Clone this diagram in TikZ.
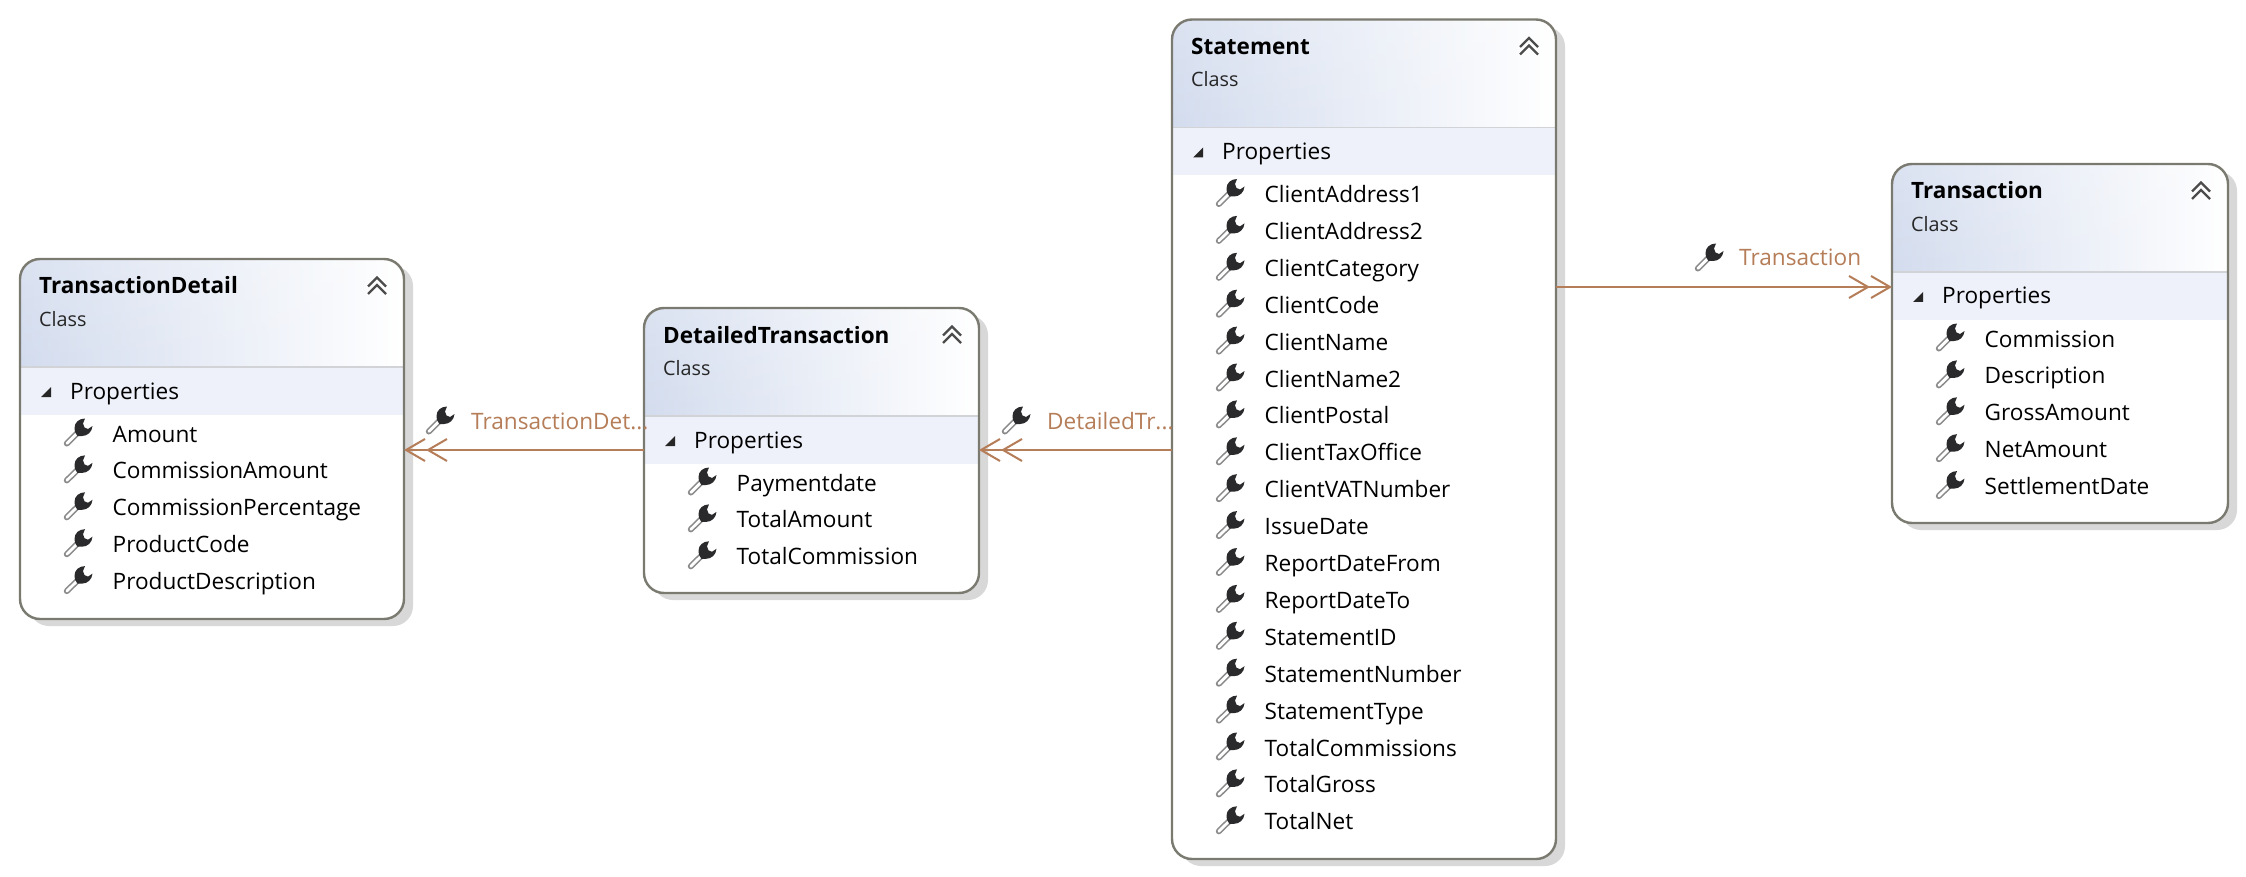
\documentclass[tikz,border=0pt]{standalone}
\usepackage{fontspec}
\setmainfont{Open Sans}
\usetikzlibrary{arrows.meta,shadows,calc,fadings}
\definecolor{frameC}{HTML}{7B7A70}
\definecolor{shadowC}{HTML}{D8D8D8}
\definecolor{hdrA}{HTML}{D3DCEE}
\definecolor{hdrB}{HTML}{E3E8F5}
\definecolor{bandC}{HTML}{EEF1F9}
\definecolor{ruleC}{HTML}{D2D3D6}
\definecolor{linkC}{HTML}{B57D58}
\definecolor{keyC}{HTML}{2A2A2C}
\definecolor{handleC}{HTML}{8A8A8A}
\tikzset{
  x=1pt,y=-1pt,
  classbox/.style={draw=none,fill=white,rounded corners=20pt,inner sep=0pt,outer sep=0pt,anchor=north west,
    drop shadow={shadow xshift=9pt,shadow yshift=-7pt,opacity=1,fill=shadowC}},
  classframe/.style={draw=frameC,line width=2.4pt,rounded corners=20pt},
  titletxt/.style={anchor=base west,inner sep=0pt,font=\fontsize{22.5}{26}\selectfont\bfseries,text=black},
  kindtxt/.style={anchor=base west,inner sep=0pt,font=\fontsize{19.8}{26}\selectfont,text=black!85},
  rowtxt/.style={anchor=base west,inner sep=0pt,font=\fontsize{22.6}{26}\selectfont,text=black},
  linktxt/.style={anchor=base west,inner sep=0pt,font=\fontsize{22.6}{26}\selectfont,text=linkC},
  assoc/.style={draw=linkC,line width=2pt,-{Straight Barb[length=19pt,width=22pt]Straight Barb[length=19pt,width=22pt]}},
  pics/wrench/.style={code={
    \draw[handleC,line width=6pt,line cap=round] (2.8,25.5) -- (15,13.5);
    \draw[white,line width=2.8pt,line cap=round] (2.8,25.5) -- (15,13.5);
    \fill[keyC] (21,0.5) .. controls (15,0.5) and (10.5,4.5) .. (10.5,10)
      .. controls (10.5,12) and (11,13.5) .. (11.5,15) -- (13.5,18)
      .. controls (15,18.3) and (16.5,18.3) .. (18,18)
      .. controls (23.5,18) and (28,14) .. (28.5,8)
      -- (24,11) -- (20.5,9.5) -- (19,5.5) -- cycle;
  }},
}
% id, x0, y0, x1, y1, title, rows
\newcommand{\umlclass}[7]{%
  \pgfmathsetmacro{\bw}{#4-#2}\pgfmathsetmacro{\bh}{#5-#3}
  \node[classbox,minimum width=\bw pt,minimum height=\bh pt] (#1) at (#2,#3) {};
  \pgfmathsetmacro{\yh}{#3+108}\pgfmathsetmacro{\yb}{#3+156}
  \shade[left color=hdrA,middle color=hdrB,right color=white]
    (#2,\yh) [rounded corners=20pt] -- (#2,#3) -- (#4,#3) [sharp corners] -- (#4,\yh) -- cycle;
  \fill[white,fill opacity=.18,path fading=south]
    (#2,\yh) [rounded corners=20pt] -- (#2,#3) -- (#4,#3) [sharp corners] -- (#4,\yh) -- cycle;
  \fill[bandC] (#2,\yh) rectangle (#4,\yb);
  \draw[ruleC,line width=1.6pt] (#2,\yh) -- (#4,\yh);
  \draw[classframe] (#1.north west) rectangle (#1.south east);
  \draw[white,line width=4pt,opacity=.6,line cap=round,line join=round] (#4-36,#3+27.5) -- (#4-27,#3+18.5) -- (#4-18,#3+27.5)
     (#4-36,#3+35) -- (#4-27,#3+26) -- (#4-18,#3+35);
  \draw[black!70,line width=2.3pt] (#4-36,#3+27.5) -- (#4-27,#3+18.5) -- (#4-18,#3+27.5)
     (#4-36,#3+35) -- (#4-27,#3+26) -- (#4-18,#3+35);
  \node[titletxt] (#1-title) at (#2+19,#3+35) {#6};
  \node[kindtxt] (#1-kind) at (#2+19,#3+67.5) {Class};
  \fill[black!85] (#2+21,#3+138) -- (#2+31,#3+138) -- (#2+31,#3+128) -- cycle;
  \node[rowtxt] (#1-group) at (#2+50,#3+140) {Properties};
  \foreach \t [count=\i from 0] in {#7}{
    \pgfmathsetmacro{\ry}{#3+183+36.9*\i}
    \pic at (#2+44,\ry-24) {wrench};
    \node[rowtxt] (#1-row\i) at (#2+92.5,\ry) {\t};
  }%
}
\begin{document}
\begin{tikzpicture}
\useasboundingbox (0,0) rectangle (2246,877);
\fill[white] (0,0) rectangle (2246,877);
\umlclass{detail}{20}{259}{404}{619}{TransactionDetail}{Amount,CommissionAmount,CommissionPercentage,ProductCode,ProductDescription}
\umlclass{dtrans}{644}{308}{979}{593}{DetailedTransaction}{Paymentdate,TotalAmount,TotalCommission}
\umlclass{stmt}{1172}{19.5}{1556}{859}{Statement}{ClientAddress1,ClientAddress2,ClientCategory,ClientCode,ClientName,ClientName2,ClientPostal,ClientTaxOffice,ClientVATNumber,IssueDate,ReportDateFrom,ReportDateTo,StatementID,StatementNumber,StatementType,TotalCommissions,TotalGross,TotalNet}
\umlclass{trans}{1892}{164}{2228}{523}{Transaction}{Commission,Description,GrossAmount,NetAmount,SettlementDate}
% connectors
\coordinate (a1) at (dtrans.west |- 0,450);
\coordinate (a2) at (detail.east |- 0,450);
\draw[assoc] (a1) -- (a2);
\coordinate (b1) at (stmt.west |- 0,450);
\coordinate (b2) at (dtrans.east |- 0,450);
\draw[assoc] (b1) -- (b2);
\coordinate (c1) at (stmt.east |- 0,287);
\coordinate (c2) at (trans.west |- 0,287);
\draw[assoc] (c1) -- (c2);
% connector labels
\pic at (426,406) {wrench};
\node[linktxt] (l1) at (471,429) {TransactionDet...};
\pic at (1002,406) {wrench};
\node[linktxt] (l2) at (1047,429) {DetailedTr...};
\pic at (1695,243) {wrench};
\node[linktxt] (l3) at (1739,266) {Transaction};
\end{tikzpicture}
\end{document}
